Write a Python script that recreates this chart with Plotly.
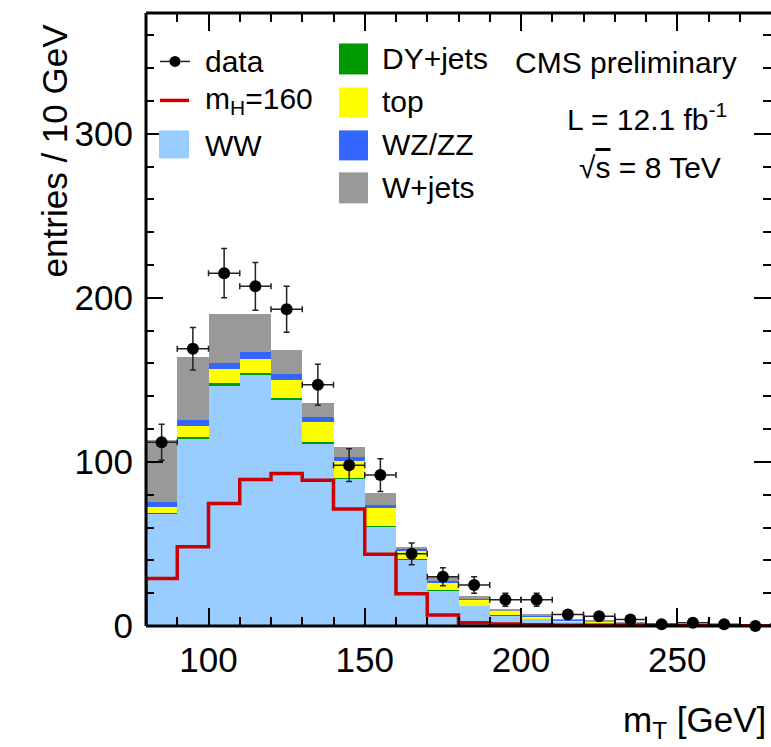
import plotly.graph_objects as go

# ---- data ----
bin_edges = [80, 90, 100, 110, 120, 130, 140, 150, 160, 170, 180, 190, 200, 210, 220, 230, 240, 250, 260, 270, 280]
bin_centers = [85, 95, 105, 115, 125, 135, 145, 155, 165, 175, 185, 195, 205, 215, 225, 235, 245, 255, 265, 275]

ww = [68.6, 113.7, 146.2, 153.5, 138.2, 111.4, 90.0, 60.9, 40.6, 21.9, 12.2, 6.7, 4.5, 2.7, 2.0, 1.4, 1.0, 0.7, 0.5, 0.4]
dy = [0.3, 1.6, 1.6, 0.8, 0.8, 0.5, 0.3, 0.1, 0.1, 0.1, 0.1, 0.05, 0.05, 0, 0, 0, 0, 0, 0, 0]
top = [3.7, 6.5, 9.1, 8.7, 11.2, 12.3, 10.2, 11.0, 5.6, 4.5, 3.6, 2.4, 1.2, 0.8, 0.6, 0.4, 0.3, 0.2, 0.1, 0.1]
wzzz = [3.0, 3.7, 3.5, 4.1, 3.3, 2.9, 2.2, 1.7, 1.0, 1.0, 0.8, 0.4, 0.4, 0.3, 0.3, 0.2, 0.1, 0.1, 0.1, 0.1]
wjets = [37.6, 38.5, 29.6, 22.9, 15.0, 8.9, 6.1, 7.5, 0.6, 2.6, 1.7, 0.3, 1.0, 0.3, 0.7, 0.4, 0.2, 0.2, 0.1, 0.0]

signal_mh160 = [29.0, 48.3, 74.7, 89.3, 93.0, 88.9, 71.3, 43.8, 19.7, 6.7, 2.0, 1.2, 0.8, 0.5, 0.4, 0.3, 0.2, 0.2, 0.1, 0.1]

data = [112, 169, 215, 207, 193, 147, 98, 92, 44, 30, 25, 16, 16, 7, 6, 4, 1, 2, 1, 0]
data_err = [11, 13, 15, 14.5, 14, 12.5, 10, 10, 6.6, 5.5, 5, 4, 4, 2.6, 2.4, 2, 1, 1.4, 1, 0]

x_ticks = [100, 150, 200, 250]
y_ticks = [0, 100, 200, 300]

# ---- styles ----
C_WW = "#99ccff"
C_DY = "#009900"
C_TOP = "#ffff00"
C_VV = "#3366ff"
C_WJ = "#999999"
C_SIG = "#cc0000"
FONT = "Liberation Sans, Arial, Helvetica, sans-serif"

W, H = 771, 747
L, R, T, B = 146, 0, 12.5, 121
PW, PH = W - L - R, H - T - B

fig = go.Figure()

for name, vals, col in [("WW", ww, C_WW), ("DY+jets", dy, C_DY), ("top", top, C_TOP),
                        ("WZ/ZZ", wzzz, C_VV), ("W+jets", wjets, C_WJ)]:
    fig.add_trace(go.Bar(x=bin_centers, y=vals, width=10, name=name,
                         marker=dict(color=col, line=dict(width=0)), showlegend=False))

# signal step histogram
sx = [bin_edges[0]] + bin_edges[:-1] + [bin_edges[-1]]
sy = [0] + signal_mh160 + [signal_mh160[-1]]
fig.add_trace(go.Scatter(x=sx, y=sy, mode="lines", line=dict(color=C_SIG, width=3.5, shape="hv"),
                         name="m_H=160", showlegend=False))

# data
fig.add_trace(go.Scatter(x=bin_centers, y=data, mode="markers", name="data",
                         marker=dict(color="black", size=12),
                         error_y=dict(type="data", array=data_err, color="#222", thickness=1.5, width=3),
                         error_x=dict(type="constant", value=5, color="#222", thickness=1.5, width=3),
                         cliponaxis=False, showlegend=False))

fig.update_layout(
    width=W, height=H, barmode="stack", bargap=0,
    margin=dict(l=L, r=R, t=T, b=B, pad=0),
    plot_bgcolor="white", paper_bgcolor="white",
    font=dict(family=FONT, color="black"),
    xaxis=dict(range=[80, 280], tickvals=x_ticks, ticktext=[str(v) for v in x_ticks],
               ticks="inside", ticklen=18, tickwidth=1.6, tickcolor="black",
               minor=dict(dtick=10, tick0=0, ticks="inside", ticklen=9, tickwidth=1.6, tickcolor="black"),
               showline=False, mirror="ticks", showgrid=False, zeroline=False,
               tickfont=dict(size=35, family=FONT), ticklabelstandoff=10),
    yaxis=dict(range=[0, 373.6], tickvals=y_ticks, ticktext=[str(v) for v in y_ticks],
               ticks="inside", ticklen=17, tickwidth=1.6, tickcolor="black",
               minor=dict(dtick=20, tick0=0, ticks="inside", ticklen=8, tickwidth=1.6, tickcolor="black"),
               showline=False, mirror="ticks", showgrid=False, zeroline=False,
               tickfont=dict(size=35, family=FONT), ticklabelstandoff=12),
)

def px(x):
    return (x - L) / PW

def py(y):
    return (H - B - y) / PH

shapes = []
# frame: left, bottom, top
for x0, y0, x1, y1 in [(0, 0, 0, 1), (0, 0, 1, 0), (0, 1, 1, 1)]:
    shapes.append(dict(type="line", xref="paper", yref="paper", x0=x0, y0=y0, x1=x1, y1=y1,
                       line=dict(color="black", width=3), layer="above"))

# legend symbols
shapes.append(dict(type="line", xref="paper", yref="paper", x0=px(160), x1=px(190), y0=py(61), y1=py(61),
                   line=dict(color="#222", width=1.5)))
shapes.append(dict(type="circle", xref="paper", yref="paper", x0=px(169.5), x1=px(180.5), y0=py(55.5), y1=py(66.5),
                   fillcolor="black", line=dict(color="black", width=0)))
shapes.append(dict(type="line", xref="paper", yref="paper", x0=px(160), x1=px(189), y0=py(100), y1=py(100),
                   line=dict(color=C_SIG, width=3.5)))
for (x0, x1, y0, y1, col) in [(159, 189, 130, 158, C_WW),
                              (339, 368, 43, 74, C_DY),
                              (339, 368, 87, 117, C_TOP),
                              (339, 368, 130, 160, C_VV),
                              (339, 368, 172, 203, C_WJ)]:
    shapes.append(dict(type="rect", xref="paper", yref="paper", x0=px(x0), x1=px(x1), y0=py(y1), y1=py(y0),
                       fillcolor=col, line=dict(width=0)))
fig.update_layout(shapes=shapes)

ann = []
def text(s, x, y, size=30, xanchor="left", angle=0):
    ann.append(dict(text=s, x=px(x), y=py(y), xref="paper", yref="paper", showarrow=False,
                    xanchor=xanchor, yanchor="middle", textangle=angle,
                    font=dict(size=size, family=FONT, color="black")))

text("data", 203, 61)
text("m<sub>H</sub>=160", 203, 100)
text("WW", 203, 145)
text("DY+jets", 380, 58)
text("top", 380, 101)
text("WZ/ZZ", 380, 144)
text("W+jets", 380, 187)
text("CMS preliminary", 513, 62)
text("L = 12.1 fb<sup>-1</sup>", 565, 117)
text("√<span style='text-decoration:overline'>s</span> = 8 TeV", 577, 167)
text("entries / 10 GeV", 54, 150, size=35, xanchor="center", angle=-90)
text("m<sub>T</sub> [GeV]", 768, 722, size=35, xanchor="right")
fig.update_layout(annotations=ann)

fig.write_html("out.html")
